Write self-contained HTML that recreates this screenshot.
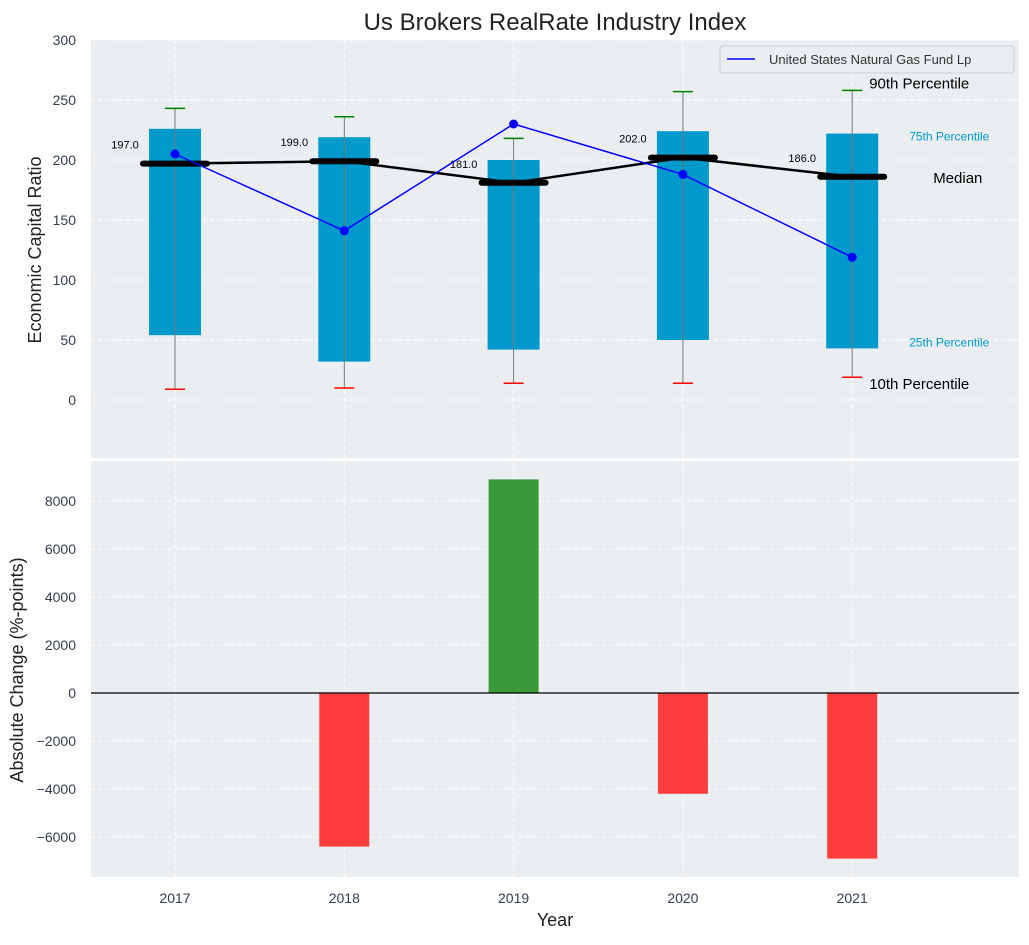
<!DOCTYPE html>
<html><head><meta charset="utf-8"><style>
body{margin:0;background:#fff;font-family:"Liberation Sans",sans-serif}
svg text{font-family:"Liberation Sans",sans-serif}
</style></head><body>
<svg id="c" width="1029" height="940" xmlns="http://www.w3.org/2000/svg"></svg>
<script>
const years=["2017","2018","2019","2020","2021"];
const q1=[54,32,42,50,43];
const q3=[226,219,200,224,222];
const p10=[9,10,14,14,19];
const p90=[243,236,218,257,258];
const medians=[197,199,181,202,186];
const fundValues=[205,141,230,188,119];
const changes=[0,-6400,8900,-4200,-6900];
const topTicks=[0,50,100,150,200,250,300];
const botTicks=[-6000,-4000,-2000,0,2000,4000,6000,8000];

const svg=document.getElementById('c');const NS='http://www.w3.org/2000/svg';
function el(t,a,p){const e=document.createElementNS(NS,t);for(const k in a)e.setAttribute(k,a[k]);(p||svg).appendChild(e);return e;}
function tx(s,a){const e=el('text',a);e.textContent=s;return e;}
const L=91,R=1019;
const xs=i=>175+i*169.3;
const yT=v=>400-v*1.2;
const yB=v=>693-v*0.024;

let bg=el('rect',{x:L,y:40,width:R-L,height:418,fill:'#eaeef0'});

let bg2=el('rect',{x:L,y:461,width:R-L,height:416,fill:'#eaeef0'});

topTicks.forEach(t=>{const y=yT(t);el('line',{x1:L,x2:R,y1:y,y2:y,stroke:'#fff','stroke-dasharray':'4,3'});
 const l=tx(t,{x:76,y:y+5,'text-anchor':'end','font-size':14,fill:'#333d4d'});
 });
botTicks.forEach(t=>{const y=yB(t);el('line',{x1:L,x2:R,y1:y,y2:y,stroke:'#fff','stroke-dasharray':'4,3'});
 const l=tx(t<0?'\u2212'+(-t):t,{x:76,y:y+5,'text-anchor':'end','font-size':14,fill:'#333d4d'});
 });
years.forEach((y,i)=>{const x=xs(i);
 el('line',{x1:x,x2:x,y1:40,y2:458,stroke:'#fff','stroke-dasharray':'4,3'});
 el('line',{x1:x,x2:x,y1:461,y2:877,stroke:'#fff','stroke-dasharray':'4,3'});
 const l=tx(y,{x:x,y:903,'text-anchor':'middle','font-size':14,fill:'#333d4d'});
 });

years.forEach((y,i)=>{const x=xs(i);
 const b=el('rect',{x:x-26,y:yT(q3[i]),width:52,height:yT(q1[i])-yT(q3[i]),fill:'#0099cc'});
 
 el('line',{x1:x,x2:x,y1:yT(p90[i]),y2:yT(p10[i]),stroke:'#777','stroke-width':1});
 el('line',{x1:x-10,x2:x+10,y1:yT(p90[i]),y2:yT(p90[i]),stroke:'green','stroke-width':1.5});
 el('line',{x1:x-10,x2:x+10,y1:yT(p10[i]),y2:yT(p10[i]),stroke:'red','stroke-width':1.5});
});
el('polyline',{points:medians.map((m,i)=>xs(i)+','+yT(m)).join(' '),fill:'none',stroke:'#000','stroke-width':2.5});
medians.forEach((m,i)=>{const x=xs(i);
 const s=el('line',{x1:x-32,x2:x+32,y1:yT(m),y2:yT(m),stroke:'#000','stroke-width':6,'stroke-linecap':'round'});
 
 tx(m.toFixed(1),{x:x-50,y:yT(m)-15,'text-anchor':'middle','font-size':11,fill:'#000'});
});
el('polyline',{points:fundValues.map((v,i)=>xs(i)+','+yT(v)).join(' '),fill:'none',stroke:'blue','stroke-width':1.5});
fundValues.forEach((v,i)=>{const c=el('circle',{cx:xs(i),cy:yT(v),r:4.5,fill:'blue'});
 });

const ax=xs(4);
tx('90th Percentile',{x:ax+17,y:yT(p90[4])-2,'font-size':15,fill:'#000'});
tx('75th Percentile',{x:ax+57,y:yT(q3[4])+7,'font-size':12,fill:'#0099cc'});
tx('Median',{x:ax+81,y:yT(medians[4])+6,'font-size':15,fill:'#000'});
tx('25th Percentile',{x:ax+57,y:yT(q1[4])-2,'font-size':12,fill:'#0099cc'});
tx('10th Percentile',{x:ax+17,y:yT(p10[4])+12,'font-size':15,fill:'#000'});

const lg=el('g',{});
el('rect',{x:720,y:46,width:294,height:27,fill:'#eaeef0',stroke:'#ccc',rx:3},lg);
el('line',{x1:727,x2:755,y1:59,y2:59,stroke:'blue','stroke-width':1.5},lg);
const lt=el('text',{x:769,y:64,'font-size':13,fill:'#333'},lg);lt.textContent='United States Natural Gas Fund Lp';

changes.forEach((v,i)=>{const x=xs(i);const y0=yB(0),y1=yB(v);
 const b=el('rect',{x:x-25,y:Math.min(y0,y1),width:50,height:Math.abs(y1-y0),fill:v>=0?'#3a9a3a':'#ff3d3d'});
 });
el('line',{x1:L,x2:R,y1:yB(0),y2:yB(0),stroke:'#000','stroke-width':1.2});

let t=tx('Us Brokers RealRate Industry Index',{x:555,y:30,'text-anchor':'middle','font-size':24,fill:'#222'});

t=tx('Economic Capital Ratio',{x:0,y:0,'text-anchor':'middle','font-size':18,fill:'#222',transform:'translate(41,250) rotate(-90)'});

t=tx('Absolute Change (%-points)',{x:0,y:0,'text-anchor':'middle','font-size':18,fill:'#222',transform:'translate(23,670) rotate(-90)'});

t=tx('Year',{x:555,y:926,'text-anchor':'middle','font-size':18,fill:'#222'});

</script>
</body></html>
